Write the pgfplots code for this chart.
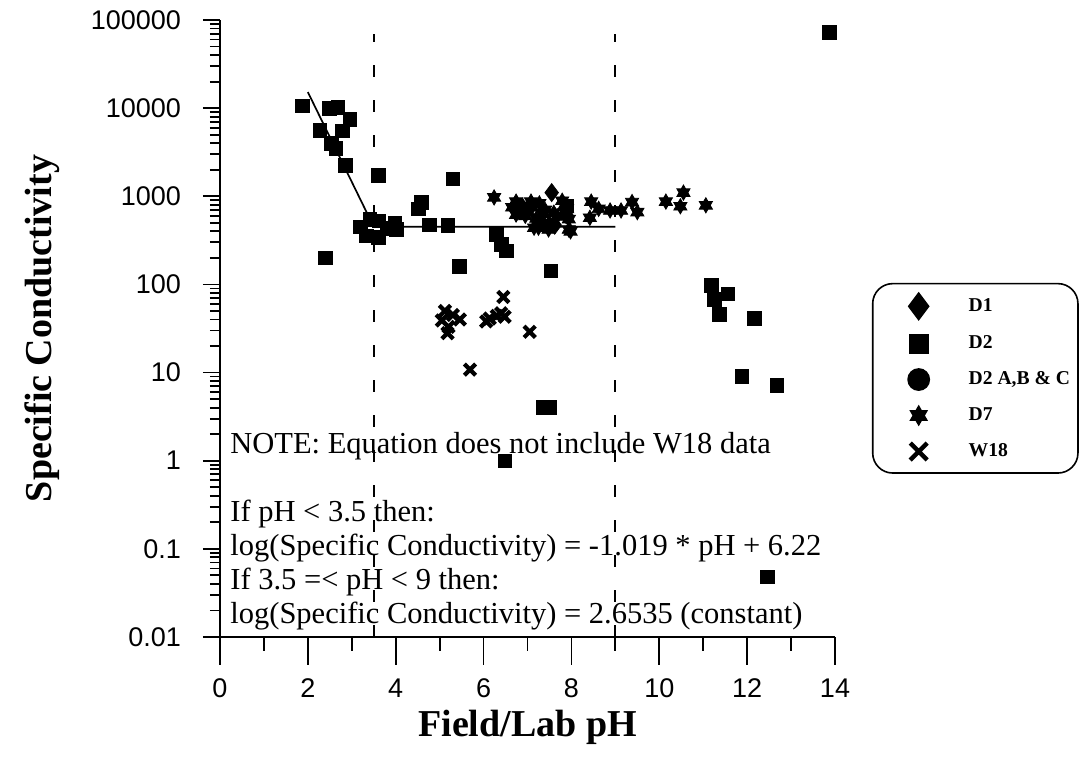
\documentclass[border=0pt]{standalone}
\usepackage{fontspec}
\setmainfont{Liberation Serif}
\newfontfamily\arialfont{Liberation Sans}
\usepackage{pgfplots}
\pgfplotsset{compat=1.18}
\pgfdeclareplotmark{hexstar}{%
  \pgfpathmoveto{\pgfpointpolar{90}{\pgfplotmarksize}}%
  \pgfpathlineto{\pgfpointpolar{210}{\pgfplotmarksize}}%
  \pgfpathlineto{\pgfpointpolar{330}{\pgfplotmarksize}}%
  \pgfpathclose
  \pgfpathmoveto{\pgfpointpolar{270}{\pgfplotmarksize}}%
  \pgfpathlineto{\pgfpointpolar{30}{\pgfplotmarksize}}%
  \pgfpathlineto{\pgfpointpolar{150}{\pgfplotmarksize}}%
  \pgfpathclose
  \pgfusepathqfillstroke}
\begin{document}
\begin{tikzpicture}
\useasboundingbox (-110pt,-60.5pt) rectangle (431pt,318.5pt);
% x axis (long ticks)
\begin{axis}[
  scale only axis, width=307.5pt, height=308.5pt,
  xmin=0, xmax=14, ymode=log, ymin=0.01, ymax=1e5,
  axis x line*=bottom, axis y line=none,
  axis line style={line width=1pt,-},
  xtick={0,2,4,6,8,10,12,14}, minor xtick={1,3,5,7,9,11,13},
  xticklabels={0,2,4,6,8,10,12,14},
  tick align=outside, major tick length=14pt, minor tick length=7pt,
  every tick/.style={black,line width=0.9pt},
  tick label style={font=\arialfont\fontsize{13.5}{14}\selectfont},
  xticklabel style={yshift=-3.5pt},
  /pgf/number format/assume math mode=true,
  xlabel={Field/Lab pH},
  every axis x label/.style={at={(axis description cs:0.5,-0.1459)},anchor=center,font=\bfseries\fontsize{19}{20}\selectfont},
]
\end{axis}
% y axis + data
\begin{axis}[
  scale only axis, width=307.5pt, height=308.5pt,
  xmin=0, xmax=14, ymode=log, ymin=0.01, ymax=1e5,
  axis y line*=left, axis x line=none,
  axis line style={line width=1pt,-},
  ytick={0.01,0.1,1,10,100,1000,10000,100000},
  yticklabels={0.01,0.1,1,10,100,1000,10000,100000},
  minor ytick={0.02,0.03,0.04,0.05,0.06,0.07,0.08,0.09,
    0.2,0.3,0.4,0.5,0.6,0.7,0.8,0.9,
    2,3,4,5,6,7,8,9,
    20,30,40,50,60,70,80,90,
    200,300,400,500,600,700,800,900,
    2000,3000,4000,5000,6000,7000,8000,9000,
    20000,30000,40000,50000,60000,70000,80000,90000},
  tick align=outside, major tick length=8.5pt, minor tick length=5pt,
  every tick/.style={black,line width=0.9pt},
  tick label style={font=\arialfont\fontsize{13.5}{14}\selectfont},
  yticklabel style={xshift=-7.5pt},
  /pgf/number format/assume math mode=true,
  ylabel={Specific Conductivity},
  every axis y label/.style={at={(axis description cs:-0.2894,0.5)},rotate=90,anchor=center,font=\bfseries\fontsize{19}{20}\selectfont},
  clip=false,
  legend style={at={(1.060,0.574)}, anchor=north west, draw=black, line width=0.8pt,
    rounded corners=10pt, inner xsep=4pt, inner ysep=4.75pt, row sep=6pt,
    font=\bfseries\fontsize{9.8}{11}\selectfont,
    nodes={inner sep=0pt, draw=none, rounded corners=0pt}},
  legend cell align=left,
  legend image code/.code={\path[draw=none,fill=none] (0pt,-6pt) rectangle (38pt,6pt);
    \draw[#1] plot coordinates {(19pt,0pt)};},
  /tikz/every odd column/.append style={column sep=6pt},
]
\addlegendimage{only marks, mark=diamond*, black, mark size=6.6pt}
\addlegendentry{D1}
\addlegendimage{only marks, mark=square*, black, mark size=4.6pt}
\addlegendentry{D2}
\addlegendimage{only marks, mark=*, black, mark size=5.3pt}
\addlegendentry{D2 A,B \& C}
\addlegendimage{only marks, mark=hexstar, black, mark size=4.6pt}
\addlegendentry{D7}
\addlegendimage{only marks, mark=x, black, mark size=6pt, mark options={line width=2.2pt}}
\addlegendentry{W18}

% dashed guide lines
\addplot[forget plot, black, line width=1pt, dash pattern=on 6pt off 11.5pt] coordinates {(3.5,0.01) (3.5,70000)};
\addplot[forget plot, black, line width=1pt, dash pattern=on 6pt off 11.5pt] coordinates {(9,0.01) (9,70000)};
% regression
\addplot[forget plot, black, line width=0.85pt] coordinates {(2,15205) (3.5,450.4) (9,450.4)};

% D2
\addplot[forget plot, only marks, mark=square*, mark size=3.4pt, black] coordinates {
(1.88,10600) (2.49,10000) (2.68,10200) (2.96,7500) (2.27,5600) (2.78,5500)
(2.53,4000) (2.64,3500) (2.85,2230) (3.60,1720) (2.40,200)
(3.20,450) (3.41,550) (3.62,525) (3.33,355) (3.60,340) (3.80,430) (3.98,500) (4.02,420)
(4.58,850) (4.52,720) (4.77,475) (5.19,465) (5.30,1580) (5.45,160)
(6.29,370) (6.40,285) (6.52,240) (7.53,143) (6.49,1.0) (7.35,4) (7.50,4) (7.90,780)
(11.18,98) (11.56,78) (11.26,68) (11.37,46) (12.16,41) (11.88,9.1) (12.68,7.2)
(12.46,0.048) (13.87,72000)
};
% D7
\addplot[forget plot, only marks, mark=hexstar, mark size=3.8pt, black] coordinates {
(6.24,970) (6.74,870) (6.89,780) (7.08,870) (6.74,620) (7.00,680) (7.27,830)
(7.79,890) (7.90,720) (7.94,550) (7.23,480) (7.50,500) (7.68,590) (7.35,630)
(7.94,420) (6.80,700) (6.95,600) (7.15,440) (7.25,440) (7.48,420) (7.98,400)
(6.65,750) (7.10,750) (7.40,700) (7.60,650) (7.85,800) (7.20,560)
(8.45,870) (8.42,570) (8.62,720) (8.88,690) (9.13,690) (9.38,860) (9.50,660)
(10.15,870) (10.55,1100) (10.48,770) (11.06,790)
};
% D1
\addplot[forget plot, only marks, mark=diamond*, mark size=4.5pt, black] coordinates {
(7.55,1100) (7.30,520) (7.62,470) (7.88,620)
};
% W18
\addplot[forget plot, only marks, mark=x, mark size=4pt, black, mark options={line width=2.1pt}] coordinates {
(5.12,50) (5.46,40) (5.05,39) (5.20,33) (5.18,28) (5.30,45)
(6.14,41) (6.30,44) (6.48,43) (6.06,38) (6.40,47) (6.45,72) (7.05,29) (5.69,10.8)
};

\node[anchor=base west, inner sep=0pt, font=\fontsize{15.25}{17}\selectfont] at (rel axis cs:0.01626,0.2982) {NOTE: Equation does not include W18 data};
\node[anchor=base west, inner sep=0pt, font=\fontsize{15.25}{17}\selectfont] at (rel axis cs:0.01626,0.1864) {If pH < 3.5 then:};
\node[anchor=base west, inner sep=0pt, font=\fontsize{15.25}{17}\selectfont] at (rel axis cs:0.01626,0.1313) {log(Specific Conductivity) = -1.019 * pH + 6.22};
\node[anchor=base west, inner sep=0pt, font=\fontsize{15.25}{17}\selectfont] at (rel axis cs:0.01626,0.0762) {If 3.5 =< pH < 9 then:};
\node[anchor=base west, inner sep=0pt, font=\fontsize{15.25}{17}\selectfont] at (rel axis cs:0.01626,0.0211) {log(Specific Conductivity) = 2.6535 (constant)};
\end{axis}
\end{tikzpicture}
\end{document}
